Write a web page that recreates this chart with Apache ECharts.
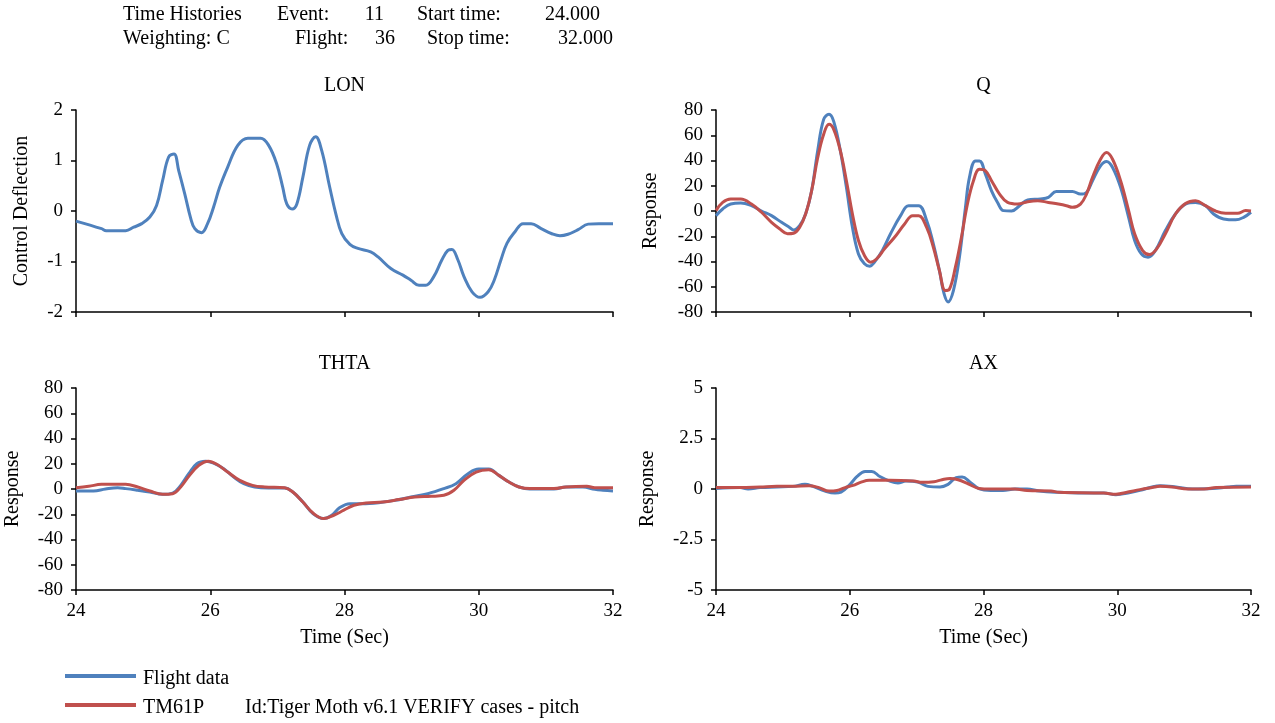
<!DOCTYPE html>
<html>
<head>
<meta charset="utf-8">
<title>Time Histories</title>
<script src="https://cdn.jsdelivr.net/npm/echarts@6/dist/echarts.min.js"></script>
<style>
  html, body { margin: 0; padding: 0; background: #fff; }
  #chart { width: 1275px; height: 723px; }
</style>
</head>
<body>
<div id="chart"></div>
<script>
  // time axis (sec)
  const timeTicks = [24, 26, 28, 30, 32];
  const seriesNames = ['Flight data', 'TM61P'];

  // LON - control deflection, flight data only  [time, value]
  const lonFlight = [
    [24.0, -0.2], [24.38, -0.35], [24.45, -0.39], [24.74, -0.39], [24.86, -0.32], [24.98, -0.25],
    [25.1, -0.12], [25.2, 0.11], [25.29, 0.6], [25.38, 1.07], [25.46, 1.13], [25.53, 0.8],
    [25.62, 0.34], [25.71, -0.15], [25.77, -0.35], [25.87, -0.43], [25.96, -0.25], [26.05, 0.08],
    [26.14, 0.47], [26.26, 0.87], [26.41, 1.3], [26.56, 1.44], [26.75, 1.44], [26.87, 1.3],
    [26.99, 0.93], [27.08, 0.47], [27.14, 0.14], [27.22, 0.04], [27.29, 0.14], [27.38, 0.67],
    [27.48, 1.3], [27.57, 1.47], [27.66, 1.2], [27.78, 0.47], [27.87, -0.05], [27.96, -0.45],
    [28.08, -0.66], [28.2, -0.74], [28.39, -0.81], [28.5, -0.91], [28.69, -1.14], [28.87, -1.27],
    [28.99, -1.37], [29.11, -1.47], [29.21, -1.47], [29.33, -1.3], [29.45, -0.97], [29.54, -0.78],
    [29.6, -0.76], [29.69, -0.97], [29.78, -1.3], [29.9, -1.6], [30.02, -1.71], [30.14, -1.6],
    [30.23, -1.37], [30.33, -0.97], [30.42, -0.64], [30.54, -0.41], [30.66, -0.25], [30.78, -0.25],
    [30.93, -0.35], [31.09, -0.45], [31.21, -0.49], [31.33, -0.46], [31.48, -0.37], [31.63, -0.26],
    [31.79, -0.25], [32.0, -0.25]
  ];

  // Q - pitch rate
  const qFlight = [
    [24.0, -3.7], [24.1, 1.6], [24.22, 5.5], [24.37, 6.3], [24.53, 4.2], [24.68, 0], [24.83, -3.7],
    [24.98, -9], [25.1, -13], [25.16, -15], [25.25, -11.6], [25.34, -2.4], [25.43, 16], [25.52, 47.6],
    [25.61, 72.6], [25.69, 76.6], [25.76, 71], [25.86, 47.6], [25.95, 18.7], [26.04, -12.9],
    [26.13, -34], [26.22, -41.8], [26.3, -43.7], [26.37, -40.5], [26.49, -31], [26.61, -18],
    [26.76, -3.7], [26.88, 4.2], [27.03, 4.2], [27.15, -7.6], [27.25, -26], [27.34, -47],
    [27.41, -65.5], [27.47, -72], [27.55, -63], [27.64, -36.6], [27.73, 2.9], [27.79, 26.6],
    [27.88, 39.7], [27.94, 39.7], [28.03, 29], [28.12, 16], [28.21, 6.8], [28.3, 0.3], [28.42, 0],
    [28.54, 4.2], [28.66, 8.7], [28.85, 9.5], [28.97, 10.8], [29.09, 15.5], [29.33, 15.5],
    [29.45, 13.4], [29.54, 14.7], [29.63, 24], [29.75, 35.8], [29.84, 39.2], [29.93, 34.5],
    [30.05, 18.7], [30.17, -5], [30.26, -23.4], [30.36, -34], [30.46, -36.6], [30.57, -31.3],
    [30.72, -15.5], [30.87, -2.4], [31.02, 5.5], [31.17, 6.8], [31.32, 4.2], [31.44, -2.4],
    [31.59, -6.3], [31.77, -7], [31.89, -5], [32.0, -1]
  ];
  const qModel = [
    [24.0, 0.3], [24.1, 6.8], [24.22, 9.5], [24.37, 9.5], [24.53, 5.5], [24.68, -1], [24.83, -9],
    [24.95, -14], [25.07, -18], [25.16, -17.6], [25.25, -13], [25.34, -2.4], [25.43, 16], [25.52, 42],
    [25.61, 60.8], [25.69, 68.7], [25.76, 64.7], [25.86, 47.6], [25.95, 24], [26.04, -2.4],
    [26.13, -23.4], [26.22, -35.3], [26.31, -40.5], [26.4, -38], [26.52, -30], [26.67, -20.8],
    [26.82, -10.3], [26.94, -3.7], [27.03, -3.7], [27.15, -13], [27.25, -28.7], [27.34, -47],
    [27.43, -63], [27.49, -62], [27.58, -44.5], [27.67, -20.8], [27.76, 5.5], [27.85, 24],
    [27.94, 33], [28.03, 31.8], [28.12, 24], [28.24, 13.4], [28.36, 6.8], [28.51, 5.5], [28.66, 7.4],
    [28.81, 8.2], [28.97, 6.8], [29.12, 5.5], [29.24, 4.2], [29.33, 2.9], [29.45, 5.5], [29.54, 13.4],
    [29.63, 26.6], [29.75, 41], [29.84, 46.3], [29.93, 41], [30.05, 24], [30.17, 0.3], [30.26, -18],
    [30.38, -31.3], [30.48, -34.5], [30.59, -30], [30.72, -18], [30.87, -2.4], [31.02, 6],
    [31.17, 8.2], [31.32, 4.2], [31.47, 0], [31.62, -1.8], [31.8, -1.8], [31.92, 0.3], [32.0, 0]
  ];

  // THTA - pitch attitude
  const thtaFlight = [
    [24.0, -1.6], [24.26, -1.6], [24.44, 0], [24.62, 1], [24.74, 0.3], [24.92, -1], [25.1, -2.4],
    [25.29, -4.2], [25.44, -3.2], [25.56, 2.9], [25.68, 12.1], [25.8, 20], [25.93, 22], [26.05, 20.5],
    [26.2, 16], [26.35, 9.5], [26.5, 4.2], [26.66, 1.6], [26.87, 0.8], [27.11, 0.8], [27.23, -2.4],
    [27.38, -10.3], [27.53, -19.5], [27.69, -23.4], [27.81, -20.8], [27.93, -14.7], [28.08, -11.6],
    [28.26, -11.6], [28.51, -10.8], [28.75, -9], [28.99, -6.3], [29.24, -3.7], [29.48, 0.3],
    [29.66, 4.2], [29.84, 12.1], [30.0, 15.8], [30.15, 15.8], [30.3, 10.8], [30.45, 5.5],
    [30.6, 1.6], [30.76, 0], [31.12, 0], [31.3, 1.6], [31.55, 1.6], [31.73, -0.3], [31.85, -1],
    [32.0, -1.6]
  ];
  const thtaModel = [
    [24.0, 1], [24.19, 2.1], [24.38, 3.7], [24.74, 3.7], [24.92, 1.6], [25.1, -1.6], [25.29, -4.2],
    [25.44, -3.7], [25.56, 1.6], [25.68, 10], [25.83, 18.7], [25.97, 22], [26.11, 19.2],
    [26.26, 13.4], [26.44, 6.8], [26.63, 2.9], [26.81, 1.6], [27.11, 1], [27.23, -2.4],
    [27.38, -10.3], [27.53, -19], [27.69, -23.4], [27.84, -20.8], [27.99, -16.8], [28.14, -12.9],
    [28.32, -11], [28.57, -10.3], [28.81, -8.4], [29.05, -6.3], [29.29, -5.8], [29.48, -5],
    [29.63, -1], [29.78, 6.8], [29.96, 13.4], [30.15, 15.3], [30.3, 10.8], [30.45, 5.5], [30.6, 1.6],
    [30.76, 0.3], [31.12, 0.3], [31.3, 1.6], [31.61, 2.1], [31.73, 1], [32.0, 1]
  ];

  // AX - longitudinal acceleration
  const axFlight = [
    [24.0, 0.02], [24.36, 0.07], [24.48, 0], [24.66, 0.07], [24.91, 0.1], [25.15, 0.13],
    [25.33, 0.23], [25.45, 0.13], [25.63, -0.1], [25.78, -0.2], [25.87, -0.15], [25.99, 0.18],
    [26.11, 0.62], [26.23, 0.87], [26.33, 0.87], [26.45, 0.62], [26.6, 0.39], [26.72, 0.3],
    [26.84, 0.39], [27.02, 0.34], [27.17, 0.13], [27.35, 0.1], [27.47, 0.23], [27.59, 0.56],
    [27.68, 0.59], [27.8, 0.34], [27.93, 0.02], [28.11, -0.07], [28.29, -0.07], [28.47, 0],
    [28.65, 0], [28.83, -0.1], [29.07, -0.16], [29.5, -0.2], [29.8, -0.2], [29.98, -0.28],
    [30.16, -0.2], [30.34, -0.07], [30.52, 0.1], [30.64, 0.16], [30.88, 0.1], [31.12, 0],
    [31.42, 0.02], [31.66, 0.1], [31.78, 0.13], [32.0, 0.13]
  ];
  const axModel = [
    [24.0, 0.07], [24.36, 0.07], [24.66, 0.1], [24.91, 0.13], [25.15, 0.13], [25.39, 0.16],
    [25.54, 0.07], [25.69, -0.1], [25.81, -0.07], [25.93, 0.07], [26.05, 0.18], [26.17, 0.34],
    [26.29, 0.43], [26.6, 0.43], [26.96, 0.39], [27.08, 0.33], [27.26, 0.36], [27.38, 0.46],
    [27.5, 0.52], [27.62, 0.46], [27.77, 0.26], [27.93, 0.03], [28.11, 0], [28.47, 0],
    [28.65, -0.07], [29.01, -0.1], [29.13, -0.16], [29.8, -0.2], [29.98, -0.26], [30.16, -0.15],
    [30.34, -0.03], [30.52, 0.07], [30.64, 0.13], [30.82, 0.1], [31.06, 0], [31.3, 0],
    [31.48, 0.07], [32.0, 0.1]
  ];

  const FONT = 'Liberation Serif';
  const BLUE = '#4f81bd';
  const RED = '#c0504d';

  const chart = echarts.init(document.getElementById('chart'), null, { renderer: 'canvas' });

  const panels = [
    { left: 76, top: 110, width: 537, height: 202, title: 'LON', yName: 'Control Deflection', nameGap: 44, min: -2, max: 2, step: 1, xLabels: false },
    { left: 716, top: 110, width: 535, height: 202, title: 'Q', yName: 'Response', nameGap: 55, min: -80, max: 80, step: 20, xLabels: false },
    { left: 76, top: 388, width: 537, height: 202, title: 'THTA', yName: 'Response', nameGap: 53, min: -80, max: 80, step: 20, xLabels: true },
    { left: 716, top: 388, width: 535, height: 202, title: 'AX', yName: 'Response', nameGap: 58, min: -5, max: 5, step: 2.5, xLabels: true }
  ];

  const axisLine = { show: true, onZero: false, lineStyle: { color: '#000', width: 1.5 } };
  const axisTick = { show: true, inside: false, length: 5, lineStyle: { color: '#000', width: 1.5 } };

  function text(str, x, y, align, size) {
    return {
      type: 'text',
      x: x,
      y: y,
      silent: true,
      style: {
        text: str,
        font: (size || 20) + 'px "' + FONT + '"',
        fill: '#000',
        textAlign: align || 'left',
        textVerticalAlign: 'middle'
      }
    };
  }

  function legendLine(y, color) {
    return {
      type: 'line',
      silent: true,
      shape: { x1: 65, y1: y, x2: 136, y2: y },
      style: { stroke: color, lineWidth: 4 }
    };
  }

  function line(name, data, idx, color) {
    return {
      name: name,
      type: 'line',
      xAxisIndex: idx,
      yAxisIndex: idx,
      data: data,
      showSymbol: false,
      symbol: 'none',
      smooth: 0.4,
      lineStyle: { color: color, width: 3 },
      itemStyle: { color: color }
    };
  }

  const graphics = [
    // header block
    text('Time Histories', 123, 15),
    text('Event:', 277, 15),
    text('11', 384, 15, 'right'),
    text('Start time:', 417, 15),
    text('24.000', 600, 15, 'right'),
    text('Weighting: C', 123, 39),
    text('Flight:', 295, 39),
    text('36', 395, 39, 'right'),
    text('Stop time:', 427, 39),
    text('32.000', 613, 39, 'right'),
    // key at the foot
    legendLine(676, BLUE),
    text(seriesNames[0], 143, 679),
    legendLine(705, RED),
    text(seriesNames[1], 143, 708),
    text('Id:Tiger Moth v6.1 VERIFY cases - pitch', 245, 708)
  ];
  panels.forEach(function (p) {
    graphics.push(text(p.title, p.left + p.width / 2, p.top - 24, 'center'));
  });

  const option = {
    animation: false,
    backgroundColor: '#fff',
    textStyle: { fontFamily: FONT, color: '#000' },
    grid: panels.map(function (p) {
      return { left: p.left, top: p.top, width: p.width, height: p.height, containLabel: false };
    }),
    xAxis: panels.map(function (p, i) {
      return {
        type: 'value',
        gridIndex: i,
        min: timeTicks[0],
        max: timeTicks[timeTicks.length - 1],
        interval: 2,
        name: p.xLabels ? 'Time (Sec)' : '',
        nameLocation: 'middle',
        nameGap: 38,
        nameTextStyle: { fontFamily: FONT, fontSize: 20, color: '#000' },
        axisLine: axisLine,
        axisTick: axisTick,
        axisLabel: { show: p.xLabels, fontFamily: FONT, fontSize: 19, color: '#000', margin: 12 },
        splitLine: { show: false }
      };
    }),
    yAxis: panels.map(function (p, i) {
      return {
        type: 'value',
        gridIndex: i,
        min: p.min,
        max: p.max,
        interval: p.step,
        name: p.yName,
        nameLocation: 'middle',
        nameGap: p.nameGap,
        nameTextStyle: { fontFamily: FONT, fontSize: 20, color: '#000' },
        axisLine: axisLine,
        axisTick: axisTick,
        axisLabel: { fontFamily: FONT, fontSize: 19, color: '#000', margin: 13 },
        splitLine: { show: false }
      };
    }),
    graphic: graphics,
    series: [
      line(seriesNames[0], lonFlight, 0, BLUE),
      line(seriesNames[0], qFlight, 1, BLUE),
      line(seriesNames[1], qModel, 1, RED),
      line(seriesNames[0], thtaFlight, 2, BLUE),
      line(seriesNames[1], thtaModel, 2, RED),
      line(seriesNames[0], axFlight, 3, BLUE),
      line(seriesNames[1], axModel, 3, RED)
    ]
  };

  chart.setOption(option);
</script>
</body>
</html>
